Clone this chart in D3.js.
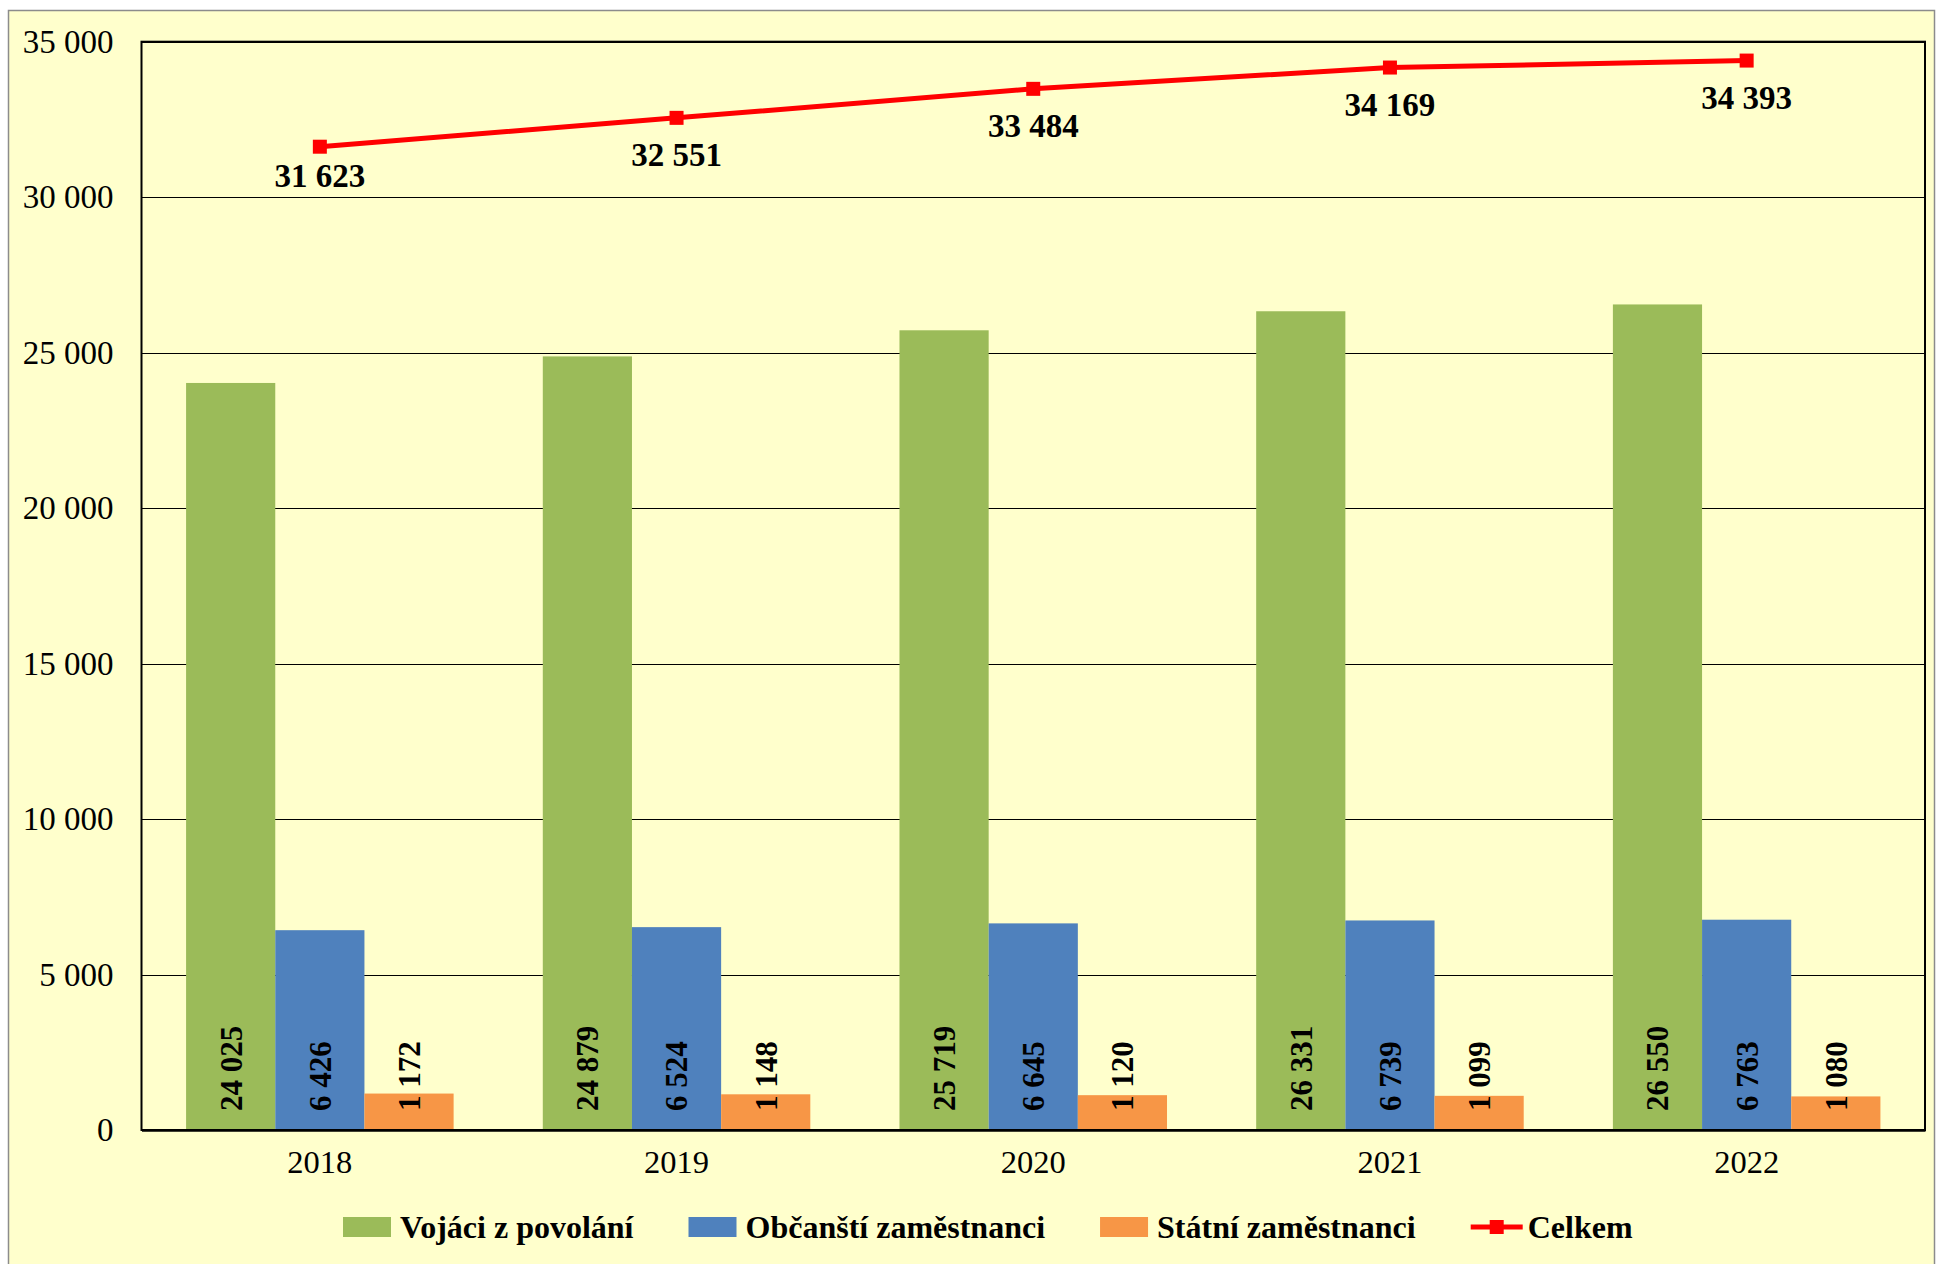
<!DOCTYPE html>
<html>
<head>
<meta charset="utf-8">
<script src="https://cdn.jsdelivr.net/npm/d3@7"></script>
<style>
  html, body { margin: 0; padding: 0; background: #ffffff; }
  svg { display: block; }
  text { font-family: "Liberation Serif", "Times New Roman", serif; fill: #000; }
</style>
</head>
<body>
<svg id="chart" width="1936" height="1264"></svg>
<script>
// ---- data ----
const years = ["2018", "2019", "2020", "2021", "2022"];
const vojaci = [24025, 24879, 25719, 26331, 26550];
const obcanstiZam = [6426, 6524, 6645, 6739, 6763];
const statniZam = [1172, 1148, 1120, 1099, 1080];
const celkem = [31623, 32551, 33484, 34169, 34393];
const yTickValues = [0, 5000, 10000, 15000, 20000, 25000, 30000, 35000];
const barSeriesNames = ["Vojáci z povolání", "Občanští zaměstnanci", "Státní zaměstnanci"];
const lineSeriesName = "Celkem";

// ---- styles ----
const barColors = ["#9BBB59", "#4F81BD", "#F79646"];
const lineColor = "#FF0000";
const bg = "#FFFFCC";

const locale = d3.formatLocale({ decimal: ",", thousands: " ", grouping: [3], currency: ["", ""] });
const fmt = locale.format(",d");

const svg = d3.select("#chart");
const W = 1936, H = 1264;

// outer chart area
svg.append("rect")
  .attr("x", 8.5).attr("y", 10.5)
  .attr("width", 1926).attr("height", H)
  .attr("fill", bg).attr("stroke", "#8c8c8c").attr("stroke-width", 1.5);

const plot = { left: 141.5, right: 1925, top: 41.7, bottom: 1130 };

const x = d3.scaleBand().domain(years)
  .range([plot.left, plot.right])
  .paddingInner(0.25).paddingOuter(0.125);
const xSub = d3.scaleBand().domain(d3.range(barSeriesNames.length)).range([0, x.bandwidth()]);
const y = d3.scaleLinear().domain([0, 35000]).range([plot.bottom, plot.top]);

// gridlines
svg.append("g")
  .selectAll("line").data(yTickValues).join("line")
  .attr("x1", plot.left).attr("x2", plot.right)
  .attr("y1", d => Math.round(y(d)) + 0.5).attr("y2", d => Math.round(y(d)) + 0.5)
  .attr("stroke", "#000").attr("stroke-width", 1.2);

// bars
const barData = [vojaci, obcanstiZam, statniZam];
const groups = svg.append("g").selectAll("g").data(years).join("g")
  .attr("transform", d => `translate(${x(d)},0)`);

groups.selectAll("rect")
  .data((yr, i) => barData.map((s, k) => ({ k, v: s[i] })))
  .join("rect")
  .attr("x", d => xSub(d.k))
  .attr("width", xSub.bandwidth())
  .attr("y", d => y(d.v))
  .attr("height", d => y(0) - y(d.v))
  .attr("fill", d => barColors[d.k]);

// bar value labels (rotated)
groups.selectAll("text.val")
  .data((yr, i) => barData.map((s, k) => ({ k, v: s[i] })))
  .join("text")
  .attr("class", "val")
  .attr("transform", d => `translate(${xSub(d.k) + xSub.bandwidth() / 2},${y(0) - 19}) rotate(-90)`)
  .attr("dy", "0.35em")
  .attr("text-anchor", "start")
  .attr("font-size", 31)
  .attr("font-weight", "bold")
  .text(d => fmt(d.v));

// plot border + axes
svg.append("rect")
  .attr("x", plot.left).attr("y", plot.top)
  .attr("width", plot.right - plot.left).attr("height", plot.bottom - plot.top)
  .attr("fill", "none").attr("stroke", "#000").attr("stroke-width", 2);

const yAxis = d3.axisLeft(y).tickValues(yTickValues).tickFormat(fmt).tickSize(0).tickPadding(28);
const yg = svg.append("g").attr("transform", `translate(${plot.left},0)`).call(yAxis);
yg.select(".domain").remove();
yg.selectAll("text").attr("font-size", 33).attr("font-family", "Liberation Serif, serif").attr("fill", "#000");

const xAxis = d3.axisBottom(x).tickSize(0).tickPadding(20);
const xg = svg.append("g").attr("transform", `translate(0,${plot.bottom})`).call(xAxis);
xg.select(".domain").attr("stroke", "#000").attr("stroke-width", 2.5);
xg.selectAll("text").attr("font-size", 32.5).attr("font-family", "Liberation Serif, serif").attr("fill", "#000");

// line
const cx = d => x(d) + x.bandwidth() / 2;
const lineGen = d3.line().x((d, i) => cx(years[i])).y(d => y(d));
svg.append("path").datum(celkem)
  .attr("d", lineGen)
  .attr("fill", "none").attr("stroke", lineColor).attr("stroke-width", 5);

svg.append("g").selectAll("rect").data(celkem).join("rect")
  .attr("x", (d, i) => cx(years[i]) - 7)
  .attr("y", d => y(d) - 7)
  .attr("width", 14).attr("height", 14)
  .attr("fill", lineColor);

// labels below points, kept clear of the 30 000 gridline
const gridAbove = y(30000);
svg.append("g").selectAll("text").data(celkem).join("text")
  .attr("x", (d, i) => cx(years[i]))
  .attr("y", d => Math.min(y(d) + 48, gridAbove - 10))
  .attr("text-anchor", "middle")
  .attr("font-size", 33).attr("font-weight", "bold")
  .text(d => fmt(d));

// legend
const legendItems = barSeriesNames.map((n, i) => ({ name: n, color: barColors[i], type: "bar" }))
  .concat([{ name: lineSeriesName, color: lineColor, type: "line" }]);
const legend = svg.append("g");
let lx = 343;
const ly = 1227;
legendItems.forEach(item => {
  const g = legend.append("g");
  if (item.type === "bar") {
    g.append("rect").attr("x", lx).attr("y", ly - 10).attr("width", 48).attr("height", 20).attr("fill", item.color);
  } else {
    g.append("line").attr("x1", lx).attr("x2", lx + 52).attr("y1", ly).attr("y2", ly)
      .attr("stroke", item.color).attr("stroke-width", 5);
    g.append("rect").attr("x", lx + 26 - 7).attr("y", ly - 7).attr("width", 14).attr("height", 14).attr("fill", item.color);
  }
  const t = g.append("text").attr("x", lx + 57).attr("y", ly).attr("dy", "0.35em")
    .attr("font-size", 32).attr("font-weight", "bold").text(item.name);
  lx = lx + 57 + t.node().getComputedTextLength() + 55;
});
</script>
</body>
</html>
